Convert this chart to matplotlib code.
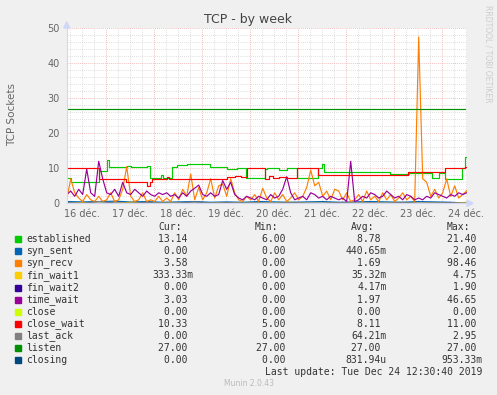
import matplotlib
matplotlib.use("Agg")
import matplotlib.pyplot as plt
from matplotlib.patches import Rectangle, Polygon
import numpy as np

W, H = 497, 395

# ---- data ----
# hours since 16 dec 00:00; graph runs 16 dec 04:30 -> 24 dec 12:30
t_start, t_end = 4.5, 204.5
day_labels = ["16 déc.", "17 déc.", "18 déc.", "19 déc.", "20 déc.",
              "21 déc.", "22 déc.", "23 déc.", "24 déc."]

# step series: (hour since start, value)
estab_h = [0, 2, 16, 20, 21, 30, 32, 40, 41.7, 47, 48, 52.5, 55, 60, 71.7, 80, 85,
           89.7, 99, 100, 106, 110, 115, 125.8, 127.5, 128.5, 161.7, 171, 182.5,
           186, 189.2, 197.5, 199, 200]
estab_v = [7.3, 6.2, 9.3, 12.4, 10.3, 10.8, 10.3, 10.6, 7.1, 8.2, 7.1, 10.5, 10.9,
           11.2, 10.3, 9.8, 10.0, 7.1, 9.7, 10.0, 9.6, 10.0, 7.1, 10.0, 11.2, 9.0,
           8.4, 8.8, 7.1, 8.6, 6.9, 10.0, 13.3, 13.3]
closew_h = [0, 16.2, 29.5, 40.3, 41.5, 42.8, 50, 51, 80, 84, 87, 90, 99.2, 101,
            103, 106, 110, 115, 125.8, 170.8, 189.2, 199, 200]
closew_v = [10, 7, 6, 5, 6, 7, 7.6, 7, 7.5, 7.8, 7.4, 10, 7, 7.8, 7.2, 7.6, 7.3,
            10, 8, 9, 10, 10.3, 10.3]
listen_v = 27.0

# spiky series, one value every 2 hours from the start
syn_recv = [1.0, 7.0, 3.0, 1.5, 0.5, 2.5, 1.0, 0.5, 2.0, 0.5,
            1.0, 3.0, 0.5, 1.0, 4.0, 10.5, 2.0, 0.5, 1.0, 3.0,
            0.5, 1.0, 0.5, 2.0, 0.5, 1.5, 0.5, 3.0, 1.0, 4.0,
            2.0, 8.4, 1.0, 4.5, 1.0, 3.0, 7.0, 1.5, 5.0, 5.5,
            2.0, 7.0, 3.0, 1.0, 0.5, 2.0, 1.0, 2.5, 0.5, 4.3,
            1.5, 0.5, 3.0, 1.0, 2.5, 0.5, 1.5, 3.0, 1.0, 2.0,
            4.5, 9.5, 5.0, 6.0, 2.0, 3.5, 1.0, 4.0, 3.5, 1.0,
            3.0, 0.5, 1.0, 2.5, 0.5, 3.5, 1.0, 2.0, 0.5, 3.0,
            1.0, 2.5, 0.5, 1.5, 3.0, 1.0, 2.0, 0.5, 47.5, 7.0,
            6.0, 2.0, 4.0, 1.5, 3.0, 7.0, 2.0, 5.0, 1.5, 2.5, 3.6]
time_wait = [2.5, 3.5, 2.0, 4.0, 2.5, 9.8, 3.0, 2.0, 12.0, 7.0,
             3.0, 2.5, 4.0, 2.0, 6.0, 3.0, 2.5, 4.0, 3.0, 2.0,
             3.5, 2.5, 2.0, 3.0, 2.5, 3.0, 2.0, 2.5, 1.5, 3.0,
             2.0, 3.5, 4.3, 5.2, 2.5, 2.0, 3.0, 2.0, 2.5, 6.5,
             4.0, 6.0, 2.5, 1.5, 1.0, 2.0, 1.5, 1.0, 2.0, 1.5,
             1.0, 2.5, 1.5, 2.0, 4.0, 7.6, 3.0, 1.0, 1.5, 2.0,
             1.0, 3.0, 2.5, 1.5, 2.0, 1.0, 2.0, 1.5, 1.0, 1.5,
             0.5, 12.0, 0.5, 1.0, 2.0, 1.5, 3.0, 2.5, 1.5, 2.0,
             3.5, 2.5, 1.5, 2.0, 1.0, 2.5, 2.0, 1.0, 1.5, 1.0,
             2.0, 1.5, 3.0, 2.5, 2.0, 1.5, 2.5, 2.0, 3.0, 2.5, 3.0]

# small series, one value every 8 hours
syn_sent = [0.5, 0.4, 0.5, 0.6, 0.4, 0.5, 0.3, 0.4, 0.5, 0.3, 0.4, 0.3, 0.5,
            0.4, 0.3, 0.4, 0.5, 0.3, 0.4, 0.5, 0.4, 0.3, 0.5, 0.4, 0.3, 0.0]
fin_wait1 = [0, 0.2, 0, 0, 0.3, 0, 0, 0.1, 0, 0, 0.2, 0, 0, 0, 0.3, 0, 0, 0.1,
             0, 0, 0, 0.2, 0, 0.1, 0, 0.3]
last_ack = [0.2, 0.0, 0.5, 0.1, 0.0, 0.3, 0.0, 0.1, 0.4, 0.0, 0.2, 0.0, 0.1,
            0.0, 0.3, 0.0, 0.0, 0.2, 0.0, 0.1, 0.0, 0.3, 0.0, 0.1, 0.2, 0.0]
zeros8 = [0.0] * 26

names = ["established", "syn_sent", "syn_recv", "fin_wait1", "fin_wait2", "time_wait",
         "close", "close_wait", "last_ack", "listen", "closing"]
colors = ["#00CC00", "#0066B3", "#FF8000", "#FFCC00", "#330099", "#990099",
          "#CCFF00", "#FF0000", "#808080", "#008F00", "#00487D"]
cur = ["13.14 ", "0.00 ", "3.58 ", "333.33m", "0.00 ", "3.03 ", "0.00 ", "10.33 ",
       "0.00 ", "27.00 ", "0.00 "]
mins = ["6.00 ", "0.00 ", "0.00 ", "0.00 ", "0.00 ", "0.00 ", "0.00 ", "5.00 ",
        "0.00 ", "27.00 ", "0.00 "]
avgs = ["8.78 ", "440.65m", "1.69 ", "35.32m", "4.17m", "1.97 ", "0.00 ", "8.11 ",
        "64.21m", "27.00 ", "831.94u"]
maxs = ["21.40 ", "2.00 ", "98.46 ", "4.75 ", "1.90 ", "46.65 ", "0.00 ", "11.00 ",
        "2.95 ", "27.00 ", "953.33m"]

# ---- figure ----
BG = "#F0F0F0"
FONT = "#666666"
AXIS = "#CFD6F8"

fig = plt.figure(figsize=(W / 100, H / 100), dpi=100, facecolor=BG)
L, R, T, B = 66.7, 466.7, 28.3, 203.3
ax = fig.add_axes([L / W, 1 - B / H, (R - L) / W, (B - T) / H])
ax.set_facecolor("white")
ax.set_xlim(t_start, t_end)
ax.set_ylim(0, 50)

# grid
for hh in np.arange(6, t_end, 6):
    if hh % 24:
        ax.axvline(hh, color="#d4d4d4", lw=0.6, ls=(0, (1, 1.5)), zorder=0)
for yy in range(2, 50, 2):
    if yy % 10:
        ax.axhline(yy, color="#d4d4d4", lw=0.6, ls=(0, (1, 1.5)), zorder=0)
for hh in range(24, int(t_end), 24):
    ax.axvline(hh, color="#f0a8a8", lw=0.6, ls=(0, (1, 1.5)), zorder=0)
for yy in range(10, 51, 10):
    ax.axhline(yy, color="#f0a8a8", lw=0.6, ls=(0, (1, 1.5)), zorder=0, clip_on=False)

t2 = t_start + 2 * np.arange(len(syn_recv))
t8 = t_start + 8 * np.arange(len(syn_sent))
lw = 0.85
ax.plot(t_start + np.array(estab_h), estab_v, drawstyle="steps-post", color=colors[0], lw=lw)
ax.plot(t8, syn_sent, color=colors[1], lw=lw)
ax.plot(t2, syn_recv, color=colors[2], lw=lw)
ax.plot(t8, fin_wait1, color=colors[3], lw=lw)
ax.plot(t8, zeros8, color=colors[4], lw=lw)
ax.plot(t2, time_wait, color=colors[5], lw=lw)
ax.plot(t8, zeros8, color=colors[6], lw=lw)
ax.plot(t_start + np.array(closew_h), closew_v, drawstyle="steps-post", color=colors[7], lw=lw)
ax.plot(t8, last_ack, color=colors[8], lw=lw)
ax.plot([t_start, t_end - 1], [listen_v, listen_v], color=colors[9], lw=lw)
ax.plot(t8, zeros8, color=colors[10], lw=lw)

for s in ["top", "right"]:
    ax.spines[s].set_visible(False)
for s in ["left", "bottom"]:
    ax.spines[s].set_color(AXIS)
    ax.spines[s].set_linewidth(0.8)

ax.set_yticks(range(0, 51, 10))
ax.set_xticks([12 + 24 * k for k in range(len(day_labels))])
ax.set_xticklabels(day_labels)
ax.tick_params(length=0, labelsize=7, labelcolor=FONT, pad=4)
ax.tick_params(axis="y", pad=5)

# arrows
def px(x, y):
    return (x / W, 1 - y / H)

fig.patches.append(Polygon([px(63.7, 28), px(69.7, 28), px(66.7, 22)], closed=True,
                           transform=fig.transFigure, color=AXIS))
fig.patches.append(Polygon([px(467, 200.3), px(467, 206.3), px(473, 203.3)], closed=True,
                           transform=fig.transFigure, color=AXIS))

fig.text(W / 2 / W, 1 - 19 / H, "TCP - by week", ha="center", va="center",
         fontsize=9, color="#444444")
fig.text(12 / W, 1 - 115 / H, "TCP Sockets", rotation=90, ha="center", va="center",
         fontsize=7.5, color=FONT)
fig.text(488 / W, 1 - 5 / H, "RRDTOOL / TOBI OETIKER", rotation=270, ha="center",
         va="top", fontsize=5.5, color="#cccccc")

# legend
mono = "DejaVu Sans Mono"
fs = 7
hy = 227.3
for xr, lab in [(181.7, "Cur:"), (278.3, "Min:"), (374.3, "Avg:"), (470, "Max:")]:
    fig.text(*px(xr, hy), lab, ha="right", va="center", family=mono, fontsize=fs, color="#333333")
for i, n in enumerate(names):
    y = 239.3 + 12.05 * i
    fig.patches.append(Rectangle(px(14.5, y + 3), 6 / W, 6 / H, transform=fig.transFigure,
                                 color=colors[i]))
    fig.text(*px(26.5, y), n, ha="left", va="center", family=mono, fontsize=fs, color="#333333")
    for xr, col in [(193.3, cur), (290.9, mins), (386.7, avgs), (482.3, maxs)]:
        fig.text(*px(xr, y), col[i], ha="right", va="center", family=mono, fontsize=fs,
                 color="#333333")
fig.text(*px(482.3, 371.7), "Last update: Tue Dec 24 12:30:40 2019", ha="right", va="center",
         family=mono, fontsize=fs, color="#333333")
fig.text(*px(248.5, 384), "Munin 2.0.43", ha="center", va="center", fontsize=5.5,
         color="#bbbbbb")

fig.savefig("out.png", dpi=100, facecolor=BG)
